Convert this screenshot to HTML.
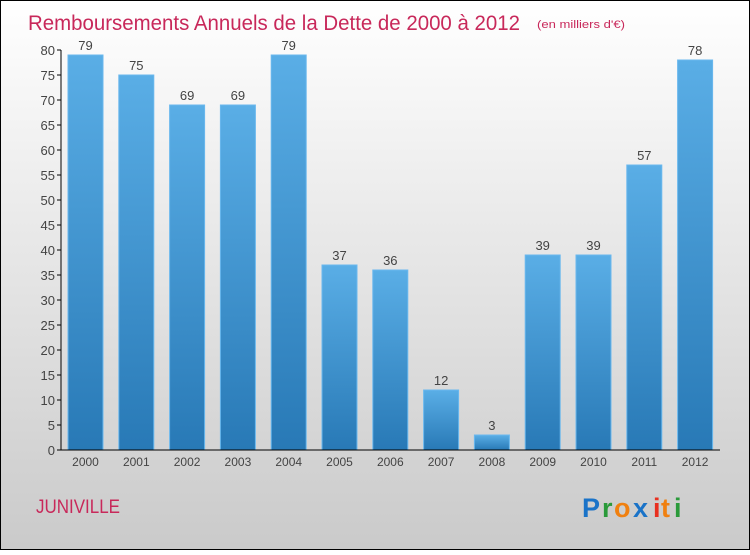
<!DOCTYPE html>
<html><head><meta charset="utf-8"><style>
body{margin:0;width:750px;height:550px;overflow:hidden;font-family:"Liberation Sans",sans-serif}
</style></head><body>
<svg width="750" height="550">
<defs>
<linearGradient id="bg" x1="0" y1="0" x2="0" y2="1"><stop offset="0" stop-color="#ffffff"/><stop offset="1" stop-color="#cacaca"/></linearGradient>
<linearGradient id="bar" x1="0" y1="0" x2="0" y2="1"><stop offset="0" stop-color="#5aaee6"/><stop offset="1" stop-color="#2879b6"/></linearGradient>
</defs>
<rect x="0.5" y="0.5" width="749" height="549" fill="url(#bg)" stroke="#000"/>
<text x="28" y="30" font-size="21" fill="#c8285a" textLength="492" lengthAdjust="spacingAndGlyphs">Remboursements Annuels de la Dette de 2000 à 2012</text>
<text x="537" y="28" font-size="11" fill="#c8285a" textLength="88" lengthAdjust="spacingAndGlyphs">(en milliers d'€)</text>
<g id="plot"></g>
<text x="36" y="513" font-size="19" fill="#c8285a" textLength="84" lengthAdjust="spacingAndGlyphs">JUNIVILLE</text>
<g font-size="27" font-weight="bold">
<text x="582" y="517" fill="#1a73c8">P</text><text x="602" y="517" fill="#2a9a3a">r</text><text x="614" y="517" fill="#f08010">o</text><text x="633" y="517" fill="#1a73c8">x</text><text x="653" y="517" fill="#e83020">i</text><text x="661" y="517" fill="#f08010">t</text><text x="674" y="517" fill="#2a9a3a">i</text>
</g>
</svg>
<script>
const categories=["2000","2001","2002","2003","2004","2005","2006","2007","2008","2009","2010","2011","2012"];
const values=[79,75,69,69,79,37,36,12,3,39,39,57,78];
const yTicks=[0,5,10,15,20,25,30,35,40,45,50,55,60,65,70,75,80];
const NS="http://www.w3.org/2000/svg";
const g=document.getElementById('plot');
const x0=61,y0=450,yMax=80,h=400,step=50.8,bw=35;
const yS=v=>y0-v/yMax*h;
const xS=i=>x0+7+i*step;
function mk(t,a,txt){const e=document.createElementNS(NS,t);for(const k in a)e.setAttribute(k,a[k]);if(txt!==undefined)e.textContent=txt;g.appendChild(e);return e;}
values.forEach((v,i)=>{
 const r=mk('rect',{x:xS(i),y:yS(v),width:bw,height:y0-yS(v),fill:'url(#bar)',stroke:'#6ab8ee','stroke-width':1});
 
 
 const l=mk('text',{x:xS(i)+bw/2,y:yS(v)-5,'text-anchor':'middle','font-size':13,fill:'#444'},v);
 
 
 const c=mk('text',{x:xS(i)+bw/2,y:y0+16,'text-anchor':'middle','font-size':12,fill:'#444'},categories[i]);
 
 
});
yTicks.forEach(t=>{
 mk('line',{x1:x0-4,x2:x0,y1:yS(t),y2:yS(t),stroke:'#000'});
 const e=mk('text',{x:x0-6,y:yS(t)+5,'text-anchor':'end','font-size':13,fill:'#444'},t);
 
 
});
const ya=mk('line',{x1:x0,x2:x0,y1:yS(yMax),y2:y0,stroke:'#000'});


const xa=mk('line',{x1:x0,x2:720,y1:y0,y2:y0,stroke:'#000'});


</script>
</body></html>
